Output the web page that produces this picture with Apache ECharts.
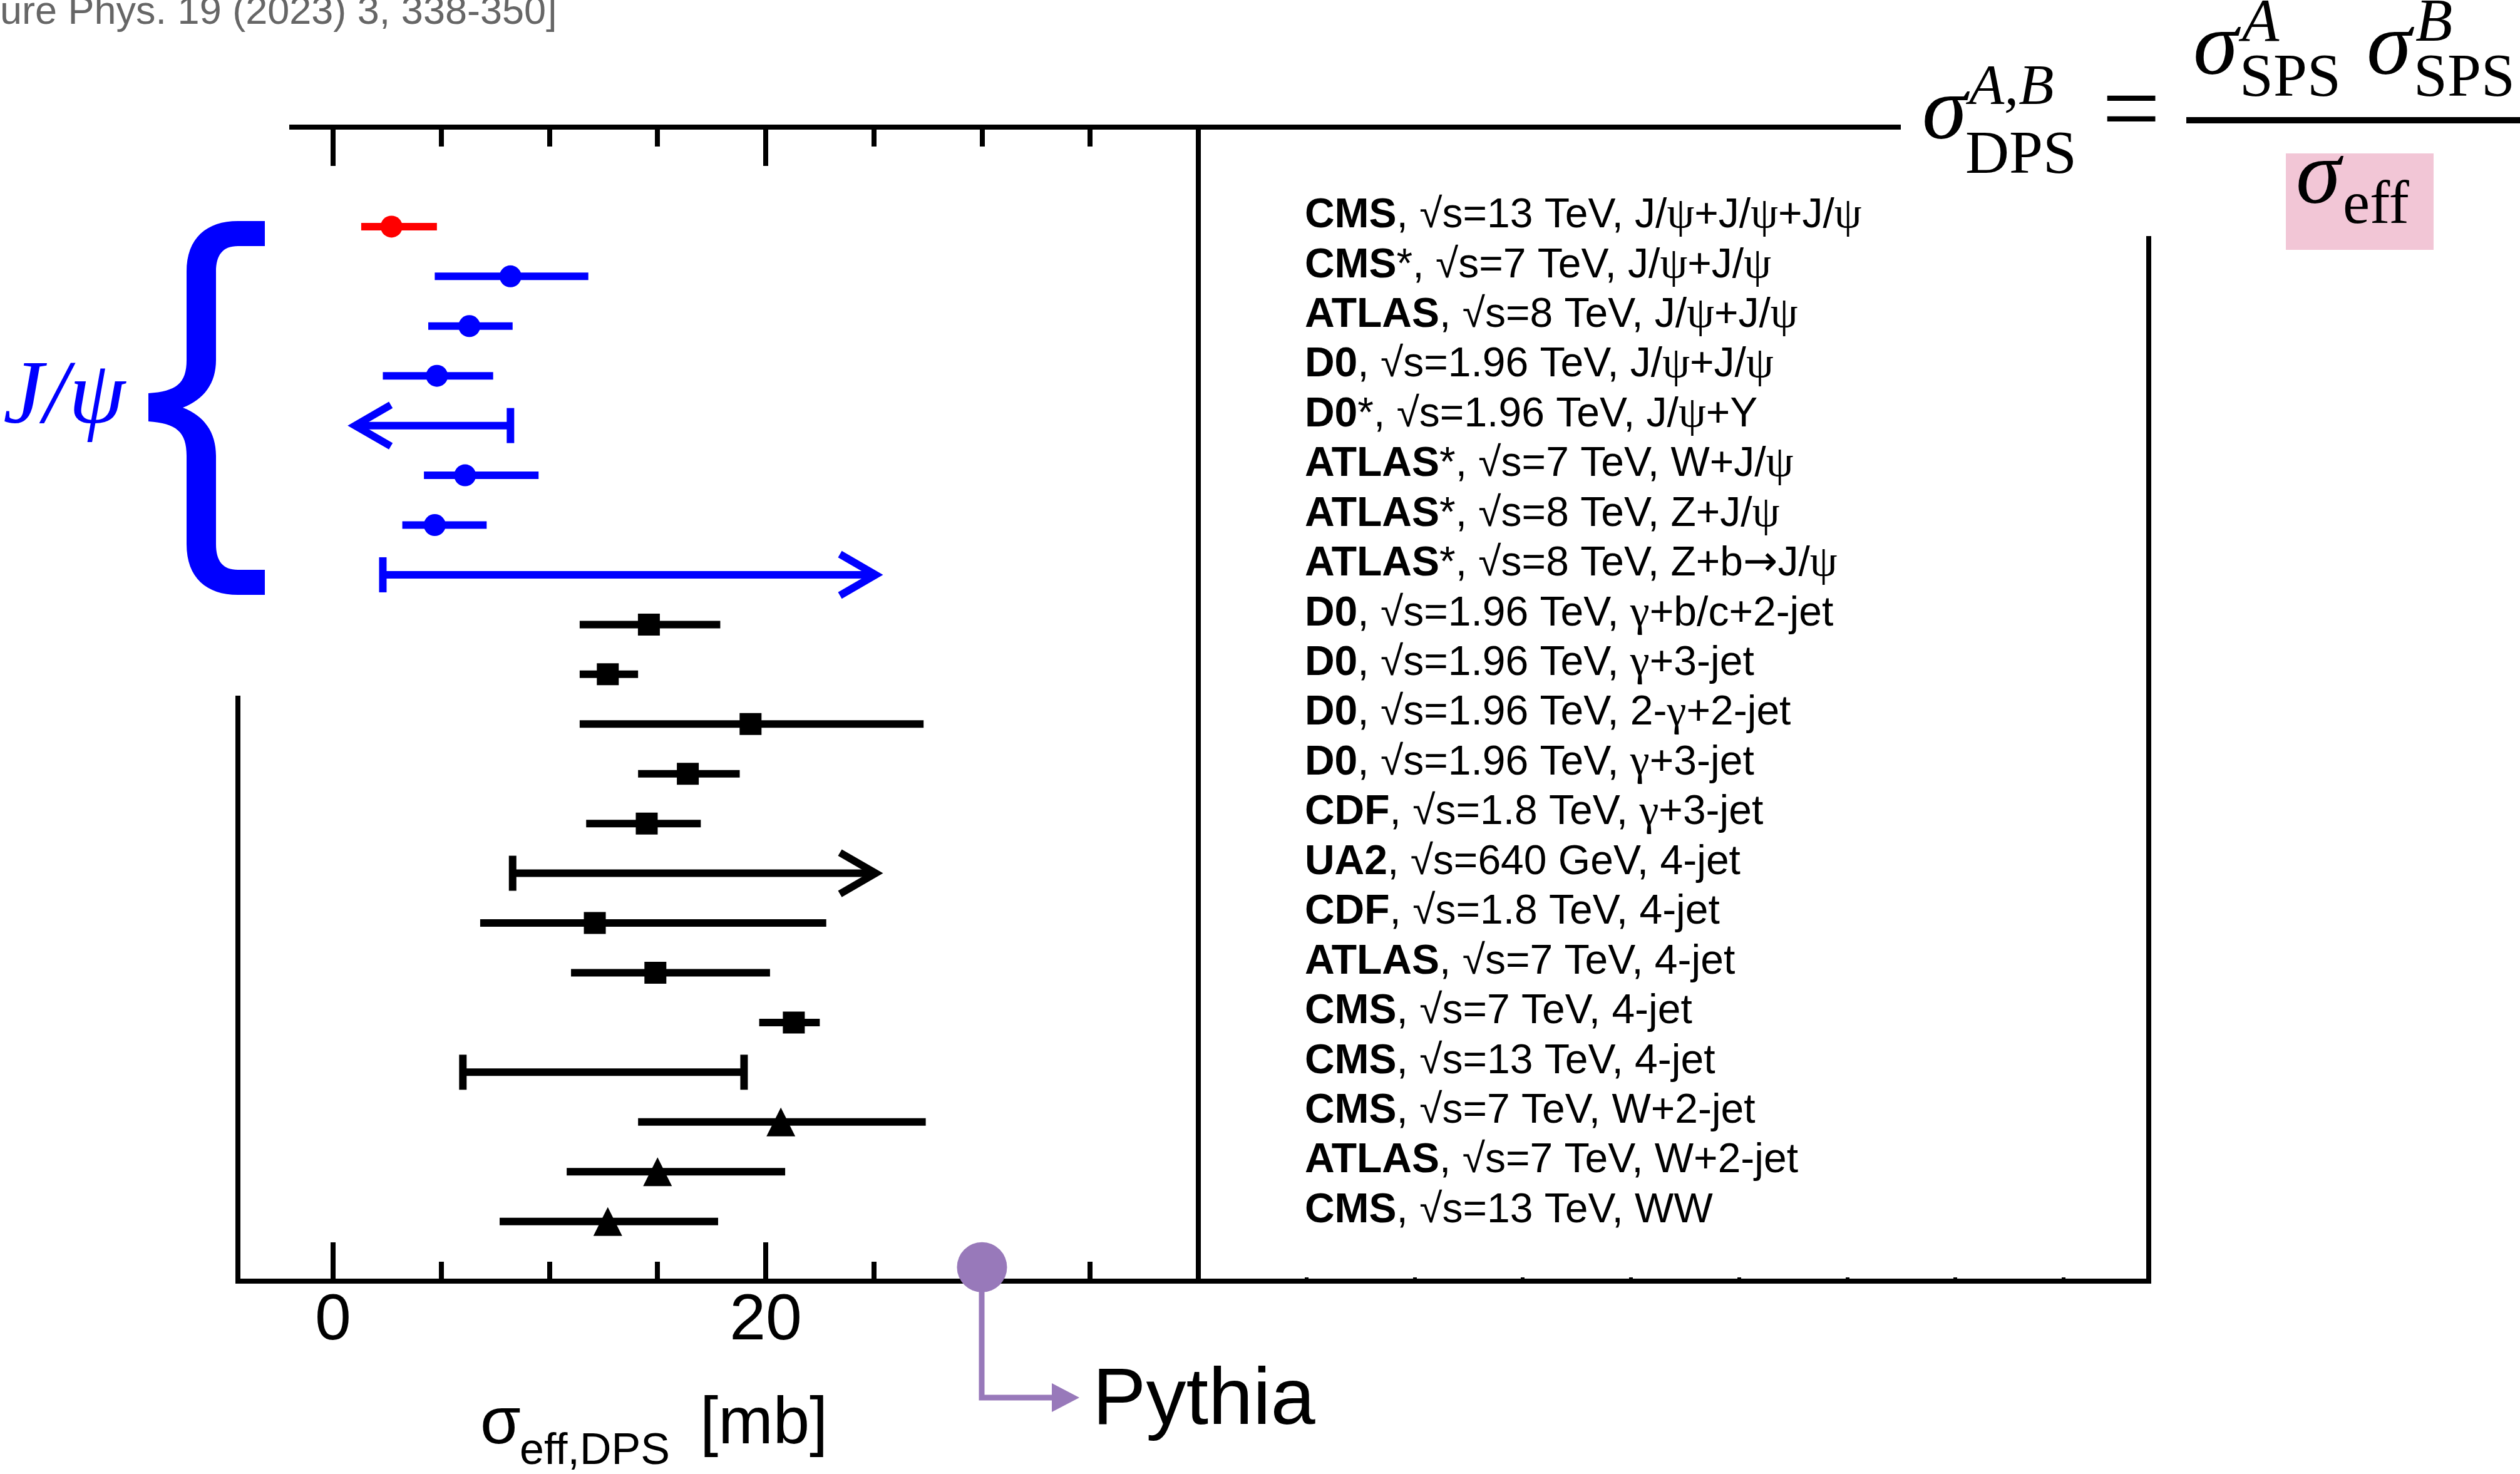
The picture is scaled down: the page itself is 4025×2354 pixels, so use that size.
<!DOCTYPE html>
<html><head><meta charset="utf-8">
<script src="https://cdn.jsdelivr.net/npm/echarts@6/dist/echarts.min.js"></script>
<style>html,body{margin:0;padding:0;background:#fff}#c{width:4025px;height:2354px}</style>
</head><body><div id="c"></div><script>
// ---------------- data ----------------
const experiments = ['CMS','CMS*','ATLAS','D0','D0*','ATLAS*','ATLAS*','ATLAS*','D0','D0','D0','D0','CDF','UA2','CDF','ATLAS','CMS','CMS','CMS','ATLAS','CMS'];
const energies = ['13 TeV','7 TeV','8 TeV','1.96 TeV','1.96 TeV','7 TeV','8 TeV','8 TeV','1.96 TeV','1.96 TeV','1.96 TeV','1.96 TeV','1.8 TeV','640 GeV','1.8 TeV','7 TeV','7 TeV','13 TeV','7 TeV','7 TeV','13 TeV'];
const processes = ['J/ψ+J/ψ+J/ψ','J/ψ+J/ψ','J/ψ+J/ψ','J/ψ+J/ψ','J/ψ+Υ','W+J/ψ','Z+J/ψ','Z+b→J/ψ','γ+b/c+2-jet','γ+3-jet','2-γ+2-jet','γ+3-jet','γ+3-jet','4-jet','4-jet','4-jet','4-jet','4-jet','W+2-jet','W+2-jet','WW'];
const central  = [2.7, 8.2, 6.3, 4.8, null, 6.1, 4.7, null, 14.6, 12.7, 19.3, 16.4, 14.5, null, 12.1, 14.9, 21.3, null, 20.7, 15.0, 12.7];
const lowEdge  = [1.3, 4.7, 4.4, 2.3, 0.7, 4.2, 3.2, 2.3, 11.4, 11.4, 11.4, 14.1, 11.7, 8.3, 6.8, 11.0, 19.7, 6.0, 14.1, 10.8, 7.7];
const highEdge = [4.8, 11.8, 8.3, 7.4, 8.2, 9.5, 7.1, 25.4, 17.9, 14.1, 27.3, 18.8, 17.0, 25.4, 22.8, 20.2, 22.5, 19.0, 27.4, 20.9, 17.8];
const limitKind = ['','','','','upper','','','lower','','','','','','lower','','','','range','','',''];
const markerShape = ['circle','circle','circle','circle','circle','circle','circle','circle','rect','rect','rect','rect','rect','rect','rect','rect','rect','none','triangle','triangle','triangle'];
const rowColor = ['#ff0000','#0000ff','#0000ff','#0000ff','#0000ff','#0000ff','#0000ff','#0000ff','#000','#000','#000','#000','#000','#000','#000','#000','#000','#000','#000','#000','#000'];
const majorTicks = [0, 20, 40];
const majorLabels = [0, 20];
const minorTicks = [5, 10, 15, 25, 30, 35];
const panelTicks = [45, 50, 55, 60, 65, 70, 75, 80];
const panelDivider = 40;
const pythiaValue = 30;
const pythiaRow = 20.92;

// ---------------- layout constants ----------------
const X_MIN = -4.4, X_MAX = 83.94;
const LEGEND_X = 44.92, LEGEND_RISE = 17, LEGEND_SIZE = 66;
const SANS = '"Liberation Sans", Arial, Helvetica, sans-serif';
const SERIF = '"Liberation Serif", "Times New Roman", serif';
const rows = experiments.map((_, i) => i);

function txt(x, baseline, text, size, opt) {
  opt = opt || {};
  const k = opt.serif ? 0.3375 : 0.3465;
  return {type: 'text', x: x, y: baseline - k * size, z: opt.z || 20, silent: true,
    style: {text: text, fontSize: size, fontFamily: opt.serif ? SERIF : SANS,
      fontStyle: opt.italic ? 'italic' : 'normal', fontWeight: opt.bold ? 'bold' : 'normal',
      fill: opt.color || '#000', align: opt.align || 'left', verticalAlign: 'middle'}};
}

function renderBar(params, api) {
  const i = api.value(3);
  const row = api.value(0);
  const a = api.coord([api.value(1), row]);
  const b = api.coord([api.value(2), row]);
  const y = a[1];
  const color = rowColor[i];
  const kind = limitKind[i];
  const W = 12, CAP = 28, AW = 57, AH = 33;
  const st = {stroke: color, lineWidth: W, fill: null, lineCap: 'butt'};
  const ch = [];
  let x1 = a[0], x2 = b[0];
  if (kind === 'upper') {
    const v = x1 + 11;
    ch.push({type: 'line', shape: {x1: v, y1: y, x2: x2, y2: y}, style: st});
    ch.push({type: 'polyline', shape: {points: [[v + AW, y - AH], [v, y], [v + AW, y + AH]]}, style: Object.assign({}, st, {lineJoin: 'miter'})});
    ch.push({type: 'line', shape: {x1: x2, y1: y - CAP, x2: x2, y2: y + CAP}, style: st});
  } else if (kind === 'lower') {
    const v = x2 - 11;
    ch.push({type: 'line', shape: {x1: x1, y1: y, x2: v, y2: y}, style: st});
    ch.push({type: 'polyline', shape: {points: [[v - AW, y - AH], [v, y], [v - AW, y + AH]]}, style: Object.assign({}, st, {lineJoin: 'miter'})});
    ch.push({type: 'line', shape: {x1: x1, y1: y - CAP, x2: x1, y2: y + CAP}, style: st});
  } else if (kind === 'range') {
    ch.push({type: 'line', shape: {x1: x1, y1: y, x2: x2, y2: y}, style: st});
    ch.push({type: 'line', shape: {x1: x1, y1: y - CAP, x2: x1, y2: y + CAP}, style: st});
    ch.push({type: 'line', shape: {x1: x2, y1: y - CAP, x2: x2, y2: y + CAP}, style: st});
  } else {
    ch.push({type: 'line', shape: {x1: x1, y1: y, x2: x2, y2: y}, style: st});
  }
  return {type: 'group', children: ch};
}

function richProcess(s) {
  return s.replace(/([ψγ])/g, '{g|$1}').replace(/→/g, '{a|→}');
}

function renderLegend(params, api) {
  const i = api.value(1);
  const p = api.coord([api.value(0), i]);
  const exp = experiments[i];
  const star = exp.endsWith('*');
  const name = star ? exp.slice(0, -1) : exp;
  return {type: 'text', x: p[0], y: p[1] - LEGEND_RISE,
    style: {text: '{b|' + name + '}' + (star ? '*' : '') + ', √s=' + energies[i] + ', ' + richProcess(processes[i]),
      rich: {
        b: {fontWeight: 'bold', fontSize: LEGEND_SIZE, fontFamily: SANS, fill: '#000', color: '#000'},
        g: {fontSize: LEGEND_SIZE + 4, fontFamily: SERIF, fill: '#000', color: '#000'},
        a: {fontSize: LEGEND_SIZE, fontFamily: '"DejaVu Sans", sans-serif', fill: '#000', color: '#000'}
      },
      fontSize: LEGEND_SIZE, fontFamily: SANS, fill: '#000', align: 'left', verticalAlign: 'middle'}};
}

function renderBrace() {
  const d = 'M423 353 L380 353 C330 353 298 380 298 434 L298 575 C298 612 282 625 237 628 L237 673 C282 676 298 690 298 728 L298 869 C298 923 330 950 380 950 L423 950 L423 910 L380 910 C356 910 345 896 345 869 L345 728 C345 690 326 664 292 651 C326 638 345 612 345 575 L345 434 C345 407 356 393 380 393 L423 393 Z';
  return {type: 'path', shape: {pathData: d, x: 237, y: 353, width: 186, height: 597, layout: 'cover'}, style: {fill: '#0000ff'}};
}

const markerData = rows.filter(i => central[i] !== null).map(i => ({
  value: [central[i], i], symbol: markerShape[i],
  symbolSize: markerShape[i] === 'triangle' ? 46 : 35,
  itemStyle: {color: rowColor[i], opacity: 1}
}));

const tickStyle = {color: '#000', width: 8};
const xBase = {type: 'value', min: X_MIN, max: X_MAX, gridIndex: 0, splitLine: {show: false},
  axisLabel: {show: false}, axisTick: {show: false}, axisLine: {show: false, onZero: false}};

const PUR = '#9879ba';
const option = {
  backgroundColor: '#fff',
  animation: false,
  grid: {left: 380, right: 593, top: 203, bottom: 308, containLabel: false, outerBoundsMode: 'none'},
  xAxis: [
    Object.assign({}, xBase, {position: 'bottom',
      axisLine: {show: true, onZero: false, lineStyle: {color: '#000', width: 8}},
      axisTick: {show: true, inside: true, length: 62, customValues: majorTicks, lineStyle: tickStyle},
      axisLabel: {show: true, customValues: majorLabels, fontSize: 104, fontFamily: SANS, color: '#000', margin: 12}}),
    Object.assign({}, xBase, {position: 'bottom',
      axisTick: {show: true, inside: true, length: 31, customValues: minorTicks, lineStyle: tickStyle}}),
    Object.assign({}, xBase, {position: 'bottom',
      axisTick: {show: true, inside: true, length: 6, customValues: panelTicks, lineStyle: {color: '#000', width: 6}}}),
    Object.assign({}, xBase, {position: 'top',
      axisTick: {show: true, inside: true, length: 62, customValues: majorTicks.slice(0, 2), lineStyle: tickStyle}}),
    Object.assign({}, xBase, {position: 'top',
      axisTick: {show: true, inside: true, length: 31, customValues: minorTicks, lineStyle: tickStyle}})
  ],
  yAxis: {type: 'value', inverse: true, min: -2, max: 21.2, show: false},
  series: [
    {type: 'custom', name: 'bars', xAxisIndex: 0, renderItem: renderBar, clip: false, z: 2,
      data: rows.map(i => [i, lowEdge[i], highEdge[i], i]),
      encode: {x: [1, 2], y: 0},
      markLine: {silent: true, symbol: 'none', label: {show: false},
        lineStyle: {color: '#000', width: 8, type: 'solid', opacity: 1}, data: [{xAxis: panelDivider}]}},
    {type: 'scatter', name: 'markers', xAxisIndex: 0, z: 3, clip: false, data: markerData},
    {type: 'scatter', name: 'Pythia', xAxisIndex: 0, z: 4, clip: false, symbolSize: 80,
      itemStyle: {color: PUR, opacity: 1}, data: [[pythiaValue, pythiaRow]]},
    {type: 'custom', name: 'legend', xAxisIndex: 0, renderItem: renderLegend, clip: false, z: 5,
      data: rows.map(i => [LEGEND_X, i])},
    {type: 'custom', name: 'brace', coordinateSystem: 'none', renderItem: renderBrace, z: 5, data: [[0]]}
  ],
  graphic: {elements: [
    {type: 'line', silent: true, shape: {x1: 462, y1: 203, x2: 3036, y2: 203}, style: {stroke: '#000', lineWidth: 8}},
    {type: 'line', silent: true, shape: {x1: 380, y1: 1111, x2: 380, y2: 2050}, style: {stroke: '#000', lineWidth: 8}},
    {type: 'line', silent: true, shape: {x1: 3432, y1: 377, x2: 3432, y2: 2050}, style: {stroke: '#000', lineWidth: 8}},
    // citation
    txt(0, 42, 'ure Phys. 19 (2023) 3, 338-350]', 63, {color: '#666'}),
    // J/psi label
    txt(5, 686, 'J/ψ', 145, {serif: true, italic: true, color: '#0000ff'}),
    // x axis title
    txt(767, 2312, 'σ', 105),
    txt(830, 2343, 'eff,DPS', 70),
    txt(1118, 2312, '[mb]', 105),
    // Pythia annotation
    {type: 'polyline', silent: true, shape: {points: [[1568, 2060], [1568, 2232], [1685, 2232]]}, style: {stroke: PUR, lineWidth: 9, fill: null}},
    {type: 'polygon', silent: true, shape: {points: [[1680, 2209], [1724, 2232], [1680, 2255]]}, style: {fill: PUR}},
    txt(1745, 2283, 'Pythia', 128),
    // formula
    {type: 'rect', silent: true, z: 5, shape: {x: 3651, y: 245, width: 236, height: 154}, style: {fill: '#f2c6d6'}},
    txt(3070, 232, 'σ', 145, {serif: true, italic: true}),
    txt(3145, 173, 'A,B', 92, {serif: true, italic: true}),
    txt(3139, 283, 'DPS', 97, {serif: true}),
    txt(3404, 240, '=', 165, {serif: true, align: 'center'}),
    {type: 'line', silent: true, shape: {x1: 3492, y1: 192, x2: 4025, y2: 192}, style: {stroke: '#000', lineWidth: 10}},
    txt(3503, 129, 'σ', 145, {serif: true, italic: true}),
    txt(3581, 72, 'A', 97, {serif: true, italic: true}),
    txt(3577, 160, 'SPS', 97, {serif: true}),
    txt(3780, 129, 'σ', 145, {serif: true, italic: true}),
    txt(3858, 72, 'B', 97, {serif: true, italic: true}),
    txt(3855, 160, 'SPS', 97, {serif: true}),
    txt(3667, 335, 'σ', 145, {serif: true, italic: true}),
    txt(3742, 363, 'eff', 97, {serif: true})
  ]}
};
const chart = echarts.init(document.getElementById('c'), null, {renderer: 'canvas', width: 4025, height: 2354});
chart.setOption(option);
</script></body></html>
